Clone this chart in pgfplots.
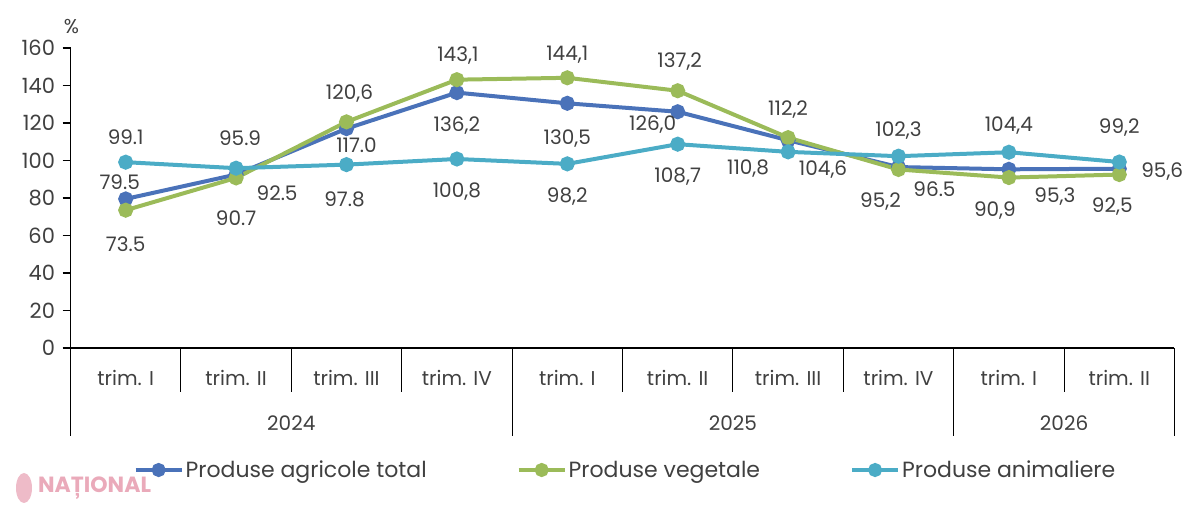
\documentclass[border=0pt]{standalone}
\usepackage{fontspec}
\setmainfont{Poppins}[Numbers=Monospaced]
\usepackage{pgfplots}
\pgfplotsset{compat=1.18}
\usepackage{pgfplotstable}
\definecolor{cBlue}{RGB}{74,114,185}
\definecolor{cGreen}{RGB}{155,187,89}
\definecolor{cCyan}{RGB}{75,172,198}
\definecolor{txt}{RGB}{64,64,64}
\definecolor{wm}{RGB}{234,170,186}

\pgfplotstableread{
x y dx dy lab
0 79.5 -6 17 79.5
1 92.5 41 -19 92.5
2 117.0 10 -17 117.0
3 136.2 0 -33 136,2
4 130.5 0 -35 130,5
5 126.0 -25 -13 126,0
6 110.8 -40 -28 110,8
7 96.5 36 -22 96.5
8 95.3 46 -27 95,3
9 95.6 43 -3 95,6
}\total
\pgfplotstableread{
x y dx dy lab
0 73.5 0 -34 73.5
1 90.7 0 -40 90.7
2 120.6 3 28 120,6
3 143.1 1 24 143,1
4 144.1 0 23 144,1
5 137.2 2 29 137,2
6 112.2 0 28 112,2
7 95.2 -18 -32 95,2
8 90.9 -14 -33 90,9
9 92.5 -7 -32 92,5
}\veg
\pgfplotstableread{
x y dx dy lab
0 99.1 0 25 99.1
1 95.9 4 30 95.9
2 97.8 -2 -35 97.8
3 100.8 0 -33 100,8
4 98.2 0 -33 98,2
5 108.7 0 -32 108,7
6 104.6 35 -18 104,6
7 102.3 0 26 102,3
8 104.4 0 27 104,4
9 99.2 0 34 99,2
}\anim

\newcommand{\lblfont}{\fontsize{20}{23}\selectfont}

\begin{document}
\begin{tikzpicture}
\path[use as bounding box] (0,0) rectangle (1200pt,508pt);
\begin{axis}[
  at={(70.5pt,160pt)}, anchor=south west,
  width=1104pt, height=300pt, scale only axis,
  xmin=-0.5, xmax=9.5, ymin=0, ymax=160,
  clip=false,
  axis x line=bottom, axis y line=left,
  axis line style={-, black, line width=1.3pt},
  xtick=\empty,
  ytick={0,20,...,160},
  tick align=outside, major tick length=8pt,
  ytick style={black, line width=1.2pt},
  yticklabel style={font=\fontsize{21}{24}\selectfont, text=txt, xshift=-4pt},
  /pgf/number format/assume math mode=true,
  point meta=explicit symbolic,
  visualization depends on={\thisrow{dx} \as \dx},
  visualization depends on={\thisrow{dy} \as \dy},
  nodes near coords,
  nodes near coords style={anchor=center, xshift=\dx pt, yshift=\dy pt, font=\lblfont, text=txt, inner sep=0pt},
  every axis plot/.append style={line width=4pt, mark=*, mark size=5.5pt},
  legend columns=3,
  legend style={at={(axis description cs:0.5027,-0.4067)}, anchor=center, draw=none, fill=none,
    font=\fontsize{22}{26}\selectfont, text=txt,
    /tikz/every even column/.append style={column sep=88pt},
    nodes={inner sep=2pt}},
  legend image code/.code={\draw[mark repeat=2, mark phase=2, #1, line width=4pt, mark size=5pt]
     plot coordinates {(0pt,0pt) (23pt,0pt) (46pt,0pt)};},
]
\addplot[color=cBlue, mark options={fill=cBlue, draw=cBlue}] table[x=x, y=y, meta=lab] {\total};
\addlegendentry{Produse agricole total}
\addplot[color=cGreen, mark options={fill=cGreen, draw=cGreen}] table[x=x, y=y, meta=lab] {\veg};
\addlegendentry{Produse vegetale}
\addplot[color=cCyan, mark options={fill=cCyan, draw=cCyan}] table[x=x, y=y, meta=lab] {\anim};
\addlegendentry{Produse animaliere}

% category separators
\draw[black, line width=1pt] (axis cs:0.5,0) -- ([yshift=-44pt]axis cs:0.5,0);
\draw[black, line width=1pt] (axis cs:1.5,0) -- ([yshift=-44pt]axis cs:1.5,0);
\draw[black, line width=1pt] (axis cs:2.5,0) -- ([yshift=-44pt]axis cs:2.5,0);
\draw[black, line width=1pt] (axis cs:4.5,0) -- ([yshift=-44pt]axis cs:4.5,0);
\draw[black, line width=1pt] (axis cs:5.5,0) -- ([yshift=-44pt]axis cs:5.5,0);
\draw[black, line width=1pt] (axis cs:6.5,0) -- ([yshift=-44pt]axis cs:6.5,0);
\draw[black, line width=1pt] (axis cs:8.5,0) -- ([yshift=-44pt]axis cs:8.5,0);
\draw[black, line width=1pt] (axis cs:-0.5,0) -- ([yshift=-88pt]axis cs:-0.5,0);
\draw[black, line width=1pt] (axis cs:3.5,0) -- ([yshift=-88pt]axis cs:3.5,0);
\draw[black, line width=1pt] (axis cs:7.5,0) -- ([yshift=-88pt]axis cs:7.5,0);
\draw[black, line width=1pt] (axis cs:9.5,0) -- ([yshift=-88pt]axis cs:9.5,0);
% quarter labels
\node[font=\lblfont, text=txt] at ([yshift=-30pt]axis cs:0,0) {trim. I};
\node[font=\lblfont, text=txt] at ([yshift=-30pt]axis cs:1,0) {trim. II};
\node[font=\lblfont, text=txt] at ([yshift=-30pt]axis cs:2,0) {trim. III};
\node[font=\lblfont, text=txt] at ([yshift=-30pt]axis cs:3,0) {trim. IV};
\node[font=\lblfont, text=txt] at ([yshift=-30pt]axis cs:4,0) {trim. I};
\node[font=\lblfont, text=txt] at ([yshift=-30pt]axis cs:5,0) {trim. II};
\node[font=\lblfont, text=txt] at ([yshift=-30pt]axis cs:6,0) {trim. III};
\node[font=\lblfont, text=txt] at ([yshift=-30pt]axis cs:7,0) {trim. IV};
\node[font=\lblfont, text=txt] at ([yshift=-30pt]axis cs:8,0) {trim. I};
\node[font=\lblfont, text=txt] at ([yshift=-30pt]axis cs:9,0) {trim. II};
% year labels
\node[font=\lblfont, text=txt] at ([yshift=-75pt]axis cs:1.5,0) {2024};
\node[font=\lblfont, text=txt] at ([yshift=-75pt]axis cs:5.5,0) {2025};
\node[font=\lblfont, text=txt] at ([yshift=-75pt]axis cs:8.5,0) {2026};
\node[font=\lblfont, text=txt] at ([xshift=1pt, yshift=21pt]rel axis cs:0,1) {\%};
\end{axis}
% watermark
\fill[wm, opacity=0.8] (24pt,20pt) ellipse (8pt and 15pt);
\node[font=\bfseries\fontsize{22}{24}\selectfont, text=wm, anchor=west, inner sep=0pt] at (38pt,20pt) {NAȚIONAL};
\end{tikzpicture}
\end{document}
